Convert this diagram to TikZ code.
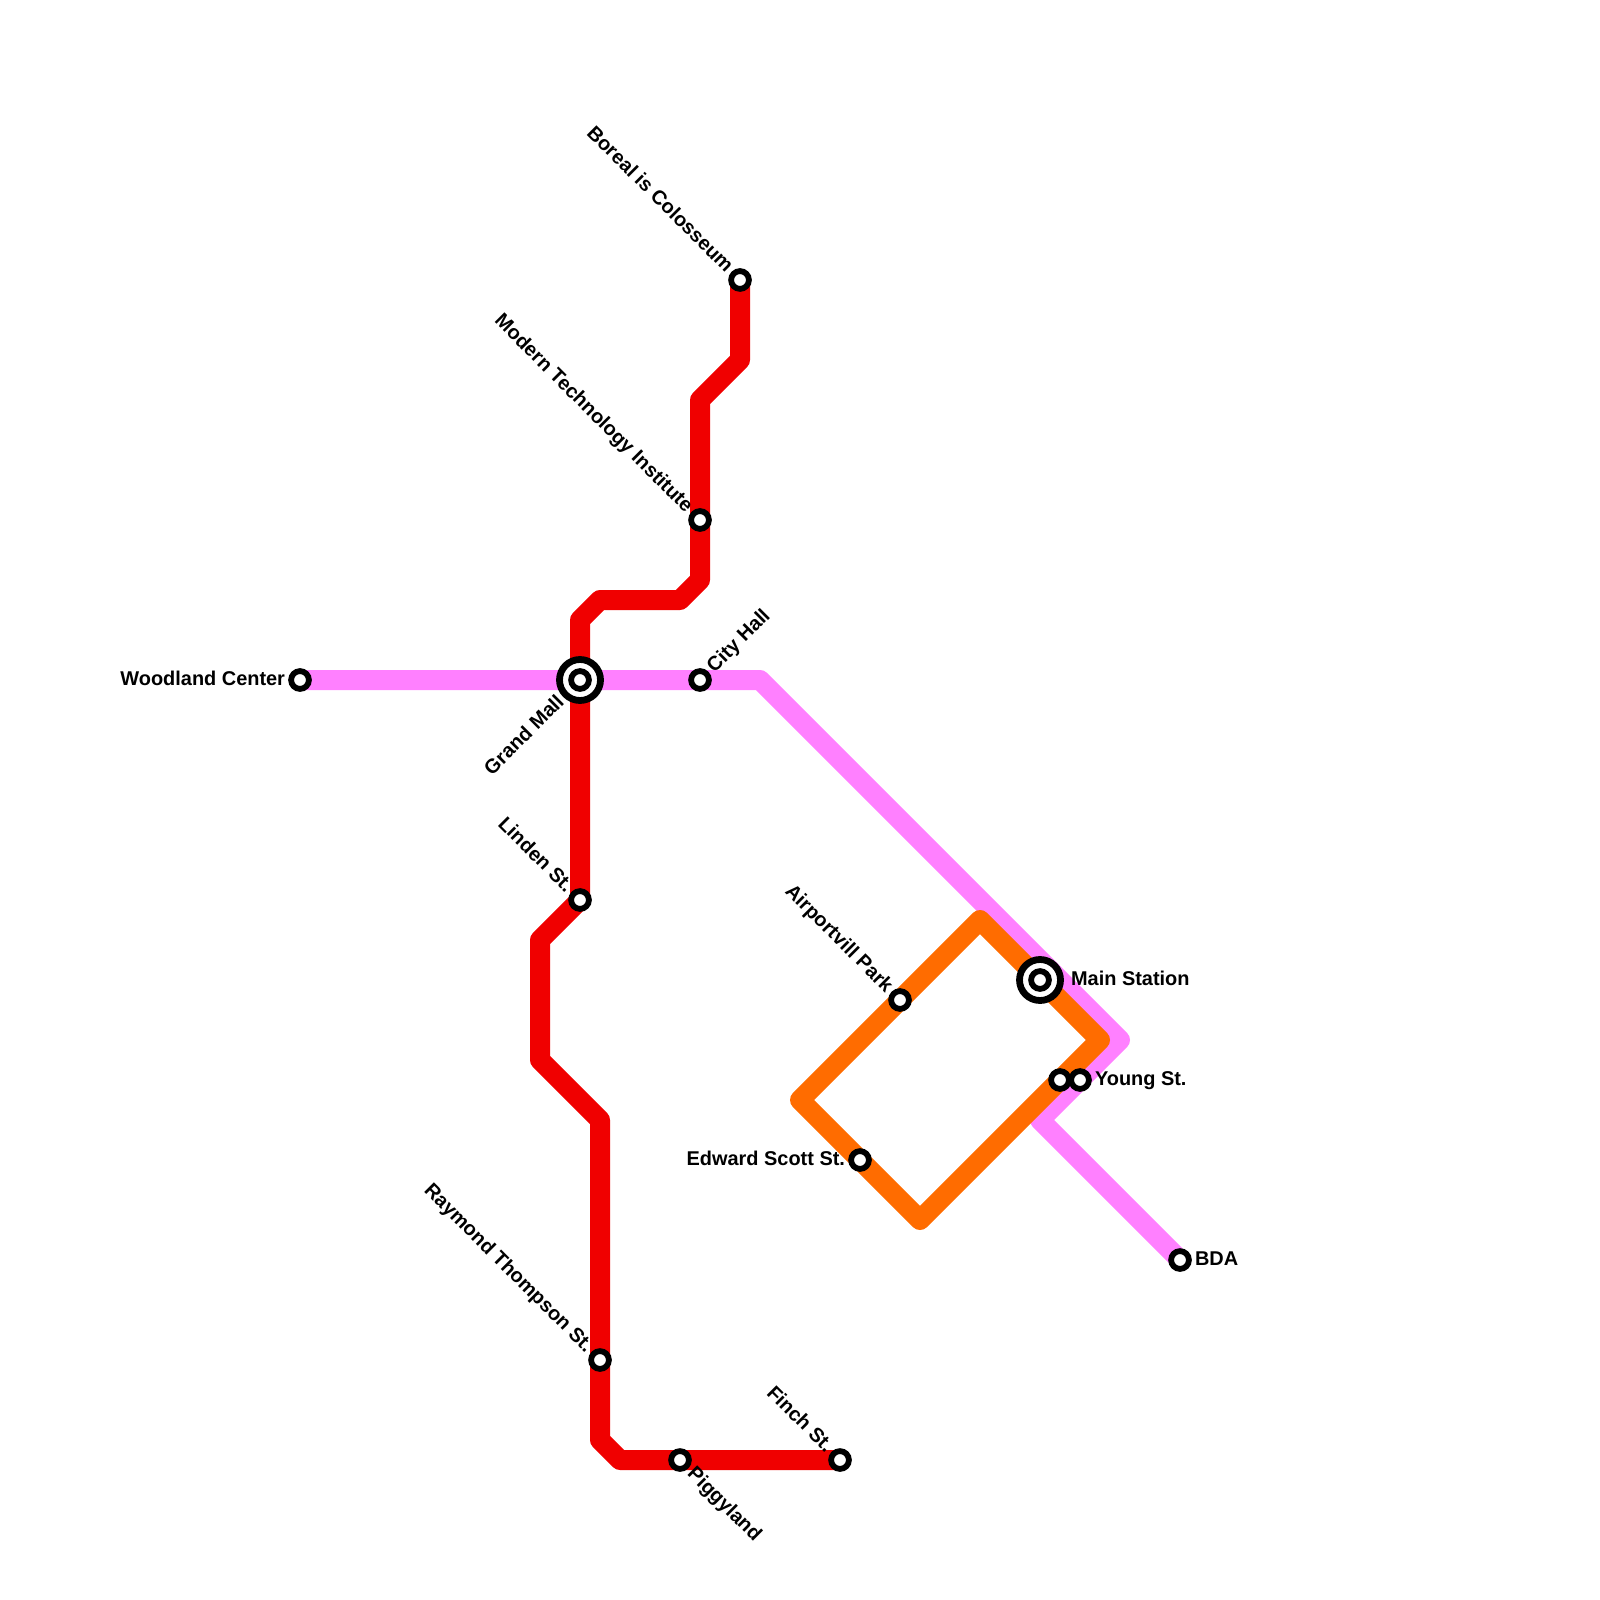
\documentclass[tikz,border=0pt]{standalone}
\usepackage{fontspec}
\setmainfont{Liberation Sans}
\usepackage{xcolor}
\usetikzlibrary{arrows.meta,positioning,backgrounds}
\definecolor{linered}{HTML}{F00000}
\definecolor{linepink}{HTML}{FF80FF}
\definecolor{lineorange}{HTML}{FF6C00}
\tikzset{
  stationdot/.style={circle,draw=black,fill=white,line width=0.058cm,
                     minimum size=0.178cm,inner sep=0pt,outer sep=0.029cm},
  hubring/.style={circle,draw=black,fill=white,line width=0.068cm,
                  minimum size=0.41cm,inner sep=0pt,outer sep=0.034cm},
  stationname/.style={font=\fontsize{5.67}{6.8}\selectfont\bfseries,
                      text=black,inner sep=0.025cm},
  flatname/.style={stationname,yshift=0.035cm},
  tiltup/.style={stationname,rotate=45,yshift=0.035cm},
  tiltdown/.style={stationname,rotate=-45,yshift=0.035cm},
  metroline/.style={line width=0.2cm,line join=round}
}
\begin{document}
\begin{tikzpicture}[x=1cm,y=-1cm]
    \path[use as bounding box] (0,0) rectangle (16,16);

    % stations
    \foreach \stn/\px/\py in {woodland/3.00/6.80,cityhall/7.00/6.80,
        boreal/7.40/2.80,moderntech/7.00/5.20,linden/5.80/9.00,
        raymond/6.00/13.60,piggyland/6.80/14.60,finch/8.40/14.60,
        airportvill/9.00/10.00,edwardscott/8.60/11.60,
        youngA/10.60/10.80,youngB/10.80/10.80,bda/11.80/12.60}{
      \node[stationdot] (\stn) at (\px,\py) {};
    }
    \node[hubring] (grandmall) at (5.80,6.80) {};
    \node[stationdot] (grandmalldot) at (grandmall.center) {};
    \node[hubring] (mainstation) at (10.40,9.80) {};
    \node[stationdot] (mainstationdot) at (mainstation.center) {};

    % bends
    \coordinate (redA) at (7.40,3.60);
    \coordinate (redB) at (7.00,4.00);
    \coordinate (redC) at (7.00,5.80);
    \coordinate (redD) at (6.80,6.00);
    \coordinate (redE) at (6.00,6.00);
    \coordinate (redF) at (5.80,6.20);
    \coordinate (redG) at (5.40,9.40);
    \coordinate (redH) at (5.40,10.60);
    \coordinate (redI) at (6.00,11.20);
    \coordinate (redJ) at (6.00,14.40);
    \coordinate (redK) at (6.20,14.60);
    \coordinate (pinkA) at (7.60,6.80);
    \coordinate (pinkB) at (11.20,10.40);
    \coordinate (pinkC) at (10.40,11.20);
    \coordinate (orangeA) at (9.80,9.20);
    \coordinate (orangeB) at (11.00,10.40);
    \coordinate (orangeC) at (9.20,12.20);
    \coordinate (orangeD) at (8.00,11.00);

    \begin{pgfonlayer}{background}
      \draw[metroline,linepink] (woodland.center) -- (pinkA) -- (pinkB)
        -- (pinkC) -- (bda.center);
      \draw[metroline,linered] (boreal.center) -- (redA) -- (redB) -- (redC)
        -- (redD) -- (redE) -- (redF) -- (linden.center) -- (redG) -- (redH)
        -- (redI) -- (redJ) -- (redK) -- (finch.center);
      \draw[metroline,lineorange] (orangeA) -- (orangeB) -- (orangeC)
        -- (orangeD) -- cycle;
    \end{pgfonlayer}

    % labels
    \node[flatname,anchor=mid east] (woodlandname) at (woodland.west) {Woodland Center};
    \node[tiltup,anchor=mid west] (cityhallname) at (cityhall.45) {City Hall};
    \node[tiltdown,anchor=mid east] (borealname) at (boreal.135) {Boreal is Colosseum};
    \node[tiltdown,anchor=mid east] (moderntechname) at (moderntech.135) {Modern Technology Institute};
    \node[tiltup,anchor=mid east] (grandmallname) at (grandmall.225) {Grand Mall};
    \node[tiltdown,anchor=mid east] (lindenname) at (linden.135) {Linden St.};
    \node[tiltdown,anchor=mid east] (raymondname) at (raymond.135) {Raymond Thompson St.};
    \node[tiltdown,anchor=mid west] (piggylandname) at (piggyland.-45) {Piggyland};
    \node[tiltdown,anchor=mid east] (finchname) at (finch.135) {Finch St.};
    \node[tiltdown,anchor=mid east] (airportvillname) at (airportvill.135) {Airportvill Park};
    \node[flatname,anchor=mid east] (edwardscottname) at (edwardscott.west) {Edward Scott St.};
    \node[flatname,anchor=mid west,xshift=0.04cm] (mainstationname) at (mainstation.east) {Main Station};
    \node[flatname,anchor=mid west] (youngname) at (youngB.east) {Young St.};
    \node[flatname,anchor=mid west] (bdaname) at (bda.east) {BDA};
  \end{tikzpicture}
\end{document}
